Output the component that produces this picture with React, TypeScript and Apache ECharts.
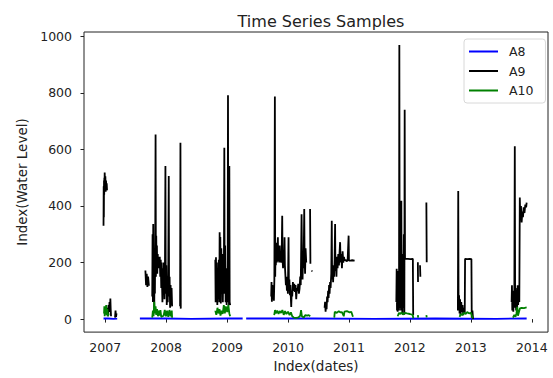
import React, { useEffect, useRef } from "react";
import * as echarts from "echarts";

type Pt = [string, number | null];

const seriesNames = ["A8", "A9", "A10"];
const yTicks = [0, 200, 400, 600, 800, 1000];
const xTickYears = [2007, 2008, 2009, 2010, 2011, 2012, 2013, 2014];

const a8: Pt[] = [
  ["2006-12-22", 2], ["2007-01-20", 2], ["2007-02-20", 1], ["2007-03-14", 2], ["2007-03-20", null],
  ["2007-07-28", 2], ["2008-01-01", 2], ["2008-06-01", 1], ["2009-01-01", 2], ["2009-04-04", 2], ["2009-04-14", null],
  ["2009-04-25", 2], ["2010-06-01", 2], ["2011-06-01", 1], ["2012-06-01", 2], ["2013-06-01", 1], ["2013-12-01", 2],
];

const a9: Pt[] = [
  // winter 2006/07
  ["2006-12-22", 330], ["2006-12-23", 470], ["2006-12-24", 360], ["2006-12-25", 490], ["2006-12-26", 440],
  ["2006-12-27", 500], ["2006-12-28", 455], ["2006-12-29", 518], ["2006-12-31", 470], ["2007-01-02", 505],
  ["2007-01-04", 450], ["2007-01-06", 490], ["2007-01-08", 460], ["2007-01-10", 480], ["2007-01-12", 455],
  ["2007-01-13", null],
  ["2007-01-15", 10], ["2007-01-17", 40], ["2007-01-19", 15], ["2007-01-21", 50], ["2007-01-24", 30],
  ["2007-01-27", 60], ["2007-01-30", 25], ["2007-02-01", 73], ["2007-02-03", 35], ["2007-02-05", 10],
  ["2007-02-10", null],
  ["2007-03-01", 5], ["2007-03-04", 30], ["2007-03-07", 8], ["2007-03-10", 20], ["2007-03-15", null],
  // autumn 2007
  ["2007-08-30", 172], ["2007-09-03", 120], ["2007-09-07", 160], ["2007-09-11", 114], ["2007-09-15", 150],
  ["2007-09-20", 118], ["2007-09-25", null],
  ["2007-10-10", 80], ["2007-10-12", 300], ["2007-10-14", 60], ["2007-10-16", 336], ["2007-10-18", 100],
  ["2007-10-20", 250], ["2007-10-22", 40], ["2007-10-24", 200], ["2007-10-26", 90], ["2007-10-28", 280],
  ["2007-10-30", 653], ["2007-11-01", 150], ["2007-11-03", 295], ["2007-11-05", 170], ["2007-11-07", 260],
  ["2007-11-09", 160], ["2007-11-12", 230], ["2007-11-15", 180], ["2007-11-18", 215], ["2007-11-21", 205],
  ["2007-11-24", 220], ["2007-11-27", 150], ["2007-11-30", 210], ["2007-12-03", 110], ["2007-12-06", 200],
  ["2007-12-08", 120], ["2007-12-10", 60], ["2007-12-13", 180], ["2007-12-16", 90], ["2007-12-19", 200],
  ["2007-12-22", 70], ["2007-12-25", 160], ["2007-12-28", 541], ["2007-12-30", 90], ["2008-01-02", 190],
  ["2008-01-05", 50], ["2008-01-08", 140], ["2008-01-11", 60], ["2008-01-14", 160], ["2008-01-17", 506],
  ["2008-01-19", 80], ["2008-01-22", 150], ["2008-01-25", 40], ["2008-01-28", 120], ["2008-01-31", 50],
  ["2008-02-03", 110], ["2008-02-06", 45], ["2008-02-10", null],
  ["2008-03-25", 45], ["2008-03-27", 623], ["2008-03-29", 37], ["2008-04-02", null],
  // winter 2008/09
  ["2008-10-22", 210], ["2008-10-24", 60], ["2008-10-26", 219], ["2008-10-28", 90], ["2008-10-31", 200],
  ["2008-11-03", 50], ["2008-11-06", 180], ["2008-11-09", 70], ["2008-11-12", 210], ["2008-11-15", 60],
  ["2008-11-17", 307], ["2008-11-19", 80], ["2008-11-21", 290], ["2008-11-24", 55], ["2008-11-27", 250],
  ["2008-11-30", 100], ["2008-12-03", 230], ["2008-12-06", 60], ["2008-12-09", 200], ["2008-12-12", 90],
  ["2008-12-15", 606], ["2008-12-17", 120], ["2008-12-20", 260], ["2008-12-23", 60], ["2008-12-26", 180],
  ["2008-12-29", 50], ["2009-01-02", 150], ["2009-01-04", 60], ["2009-01-06", 791], ["2009-01-08", 100],
  ["2009-01-10", 300], ["2009-01-12", 50], ["2009-01-14", 541], ["2009-01-16", 60], ["2009-01-19", 49],
  ["2009-01-25", null],
  // winter 2009/10
  ["2009-09-22", 80], ["2009-09-24", 131], ["2009-09-26", 61], ["2009-09-29", 120], ["2009-10-02", 70],
  ["2009-10-05", 110], ["2009-10-08", 65], ["2009-10-11", 140], ["2009-10-14", 787], ["2009-10-16", 150],
  ["2009-10-18", 250], ["2009-10-20", 190], ["2009-10-23", 270], ["2009-10-26", 200], ["2009-10-29", 240],
  ["2009-11-01", 289], ["2009-11-03", 205], ["2009-11-06", 230], ["2009-11-09", 200], ["2009-11-12", 260],
  ["2009-11-15", 205], ["2009-11-18", 210], ["2009-11-21", 200], ["2009-11-24", 240], ["2009-11-27", 365],
  ["2009-11-29", 210], ["2009-12-02", 180], ["2009-12-05", 230], ["2009-12-08", 200], ["2009-12-11", 289],
  ["2009-12-13", 190], ["2009-12-16", 155], ["2009-12-19", 120], ["2009-12-22", 150], ["2009-12-25", 100],
  ["2009-12-28", 140], ["2009-12-31", 90], ["2010-01-04", 289], ["2010-01-06", 110], ["2010-01-09", 140],
  ["2010-01-12", 84], ["2010-01-15", 120], ["2010-01-18", 70], ["2010-01-20", 43], ["2010-01-23", 100],
  ["2010-01-26", 80], ["2010-01-30", 131], ["2010-02-03", 100], ["2010-02-07", 125], ["2010-02-11", 96],
  ["2010-02-15", 120], ["2010-02-19", 70], ["2010-02-23", 110], ["2010-02-27", 100], ["2010-03-03", 125],
  ["2010-03-07", 90], ["2010-03-11", 108], ["2010-03-15", 150], ["2010-03-18", 120], ["2010-03-21", 260],
  ["2010-03-23", 371], ["2010-03-26", 200], ["2010-03-29", 140], ["2010-04-01", 230], ["2010-04-04", 180],
  ["2010-04-08", 389], ["2010-04-10", 220], ["2010-04-13", 160], ["2010-04-16", 250], ["2010-04-20", 200],
  ["2010-04-25", null],
  ["2010-05-13", 389], ["2010-05-15", 196], ["2010-05-18", null],
  ["2010-05-23", 172], ["2010-05-25", 168], ["2010-05-28", null],
  // winter 2010/11
  ["2010-08-08", 40], ["2010-08-11", 61], ["2010-08-14", 26], ["2010-08-17", 55], ["2010-08-20", 35],
  ["2010-08-23", 80], ["2010-08-26", 60], ["2010-08-29", 100], ["2010-09-01", 75], ["2010-09-04", 120],
  ["2010-09-07", 90], ["2010-09-10", 131], ["2010-09-13", 110], ["2010-09-17", 160], ["2010-09-20", 348],
  ["2010-09-22", 140], ["2010-09-25", 190], ["2010-09-28", 130], ["2010-10-01", 180], ["2010-10-04", 150],
  ["2010-10-07", 210], ["2010-10-10", 336], ["2010-10-12", 170], ["2010-10-15", 200], ["2010-10-18", 150],
  ["2010-10-21", 220], ["2010-10-25", 180], ["2010-10-29", 230], ["2010-11-02", 190], ["2010-11-06", 240],
  ["2010-11-09", 272], ["2010-11-12", 200], ["2010-11-16", 230], ["2010-11-20", 180], ["2010-11-24", 240],
  ["2010-11-28", 200], ["2010-12-02", 220], ["2010-12-06", 207], ["2010-12-12", 210], ["2010-12-18", 205],
  ["2010-12-24", 207], ["2010-12-30", 295], ["2011-01-01", 207], ["2011-01-10", 207], ["2011-01-20", 208],
  ["2011-02-04", 207], ["2011-02-06", null],
  ["2011-02-09", 125], ["2011-02-11", 123], ["2011-02-14", null],
  // winter 2011/12
  ["2011-10-12", 60], ["2011-10-14", 178], ["2011-10-16", 30], ["2011-10-18", 150], ["2011-10-20", 26],
  ["2011-10-22", 170], ["2011-10-24", 40], ["2011-10-26", 140], ["2011-10-28", 30], ["2011-10-30", 969],
  ["2011-11-01", 60], ["2011-11-03", 250], ["2011-11-05", 40], ["2011-11-07", 200], ["2011-11-09", 30],
  ["2011-11-11", 418], ["2011-11-13", 50], ["2011-11-15", 230], ["2011-11-17", 20], ["2011-11-20", 180],
  ["2011-11-23", 40], ["2011-11-26", 300], ["2011-11-29", 15], ["2011-12-01", 740], ["2011-12-03", 213],
  ["2011-12-20", 213], ["2012-01-05", 212], ["2012-01-19", 213], ["2012-01-21", 14], ["2012-01-25", null],
  ["2012-02-18", 201], ["2012-02-19", 131], ["2012-02-25", null],
  ["2012-03-02", 190], ["2012-03-04", 150], ["2012-03-08", null],
  ["2012-04-09", 412], ["2012-04-11", 201], ["2012-04-15", null],
  // winter 2012/13
  ["2012-10-15", 30], ["2012-10-17", 453], ["2012-10-19", 40], ["2012-10-22", 84], ["2012-10-25", 20],
  ["2012-10-28", 70], ["2012-10-31", 14], ["2012-11-04", 60], ["2012-11-08", 25], ["2012-11-12", 50],
  ["2012-11-16", 14], ["2012-11-20", 40], ["2012-11-25", 20], ["2012-11-27", 213], ["2012-12-10", 212],
  ["2012-12-25", 213], ["2013-01-04", 212], ["2013-01-06", 5], ["2013-01-10", 30], ["2013-01-14", 0],
  ["2013-01-20", null],
  // autumn 2013
  ["2013-09-02", 60], ["2013-09-04", 120], ["2013-09-06", 30], ["2013-09-09", 100], ["2013-09-12", 26],
  ["2013-09-15", 80], ["2013-09-18", 40], ["2013-09-21", 611], ["2013-09-23", 60], ["2013-09-26", 110],
  ["2013-09-29", 30], ["2013-10-02", 90], ["2013-10-05", 40], ["2013-10-08", 120], ["2013-10-11", 50],
  ["2013-10-15", 100], ["2013-10-18", 60], ["2013-10-21", 430], ["2013-10-24", 350], ["2013-10-28", 400],
  ["2013-11-01", 342], ["2013-11-05", 380], ["2013-11-09", 360], ["2013-11-13", 395], ["2013-11-18", 375],
  ["2013-11-23", 405], ["2013-11-28", 395], ["2013-12-01", 412],
];

const a10: Pt[] = [
  ["2006-12-25", 20], ["2006-12-27", 45], ["2006-12-29", 10], ["2007-01-01", 40], ["2007-01-04", 25],
  ["2007-01-07", 50], ["2007-01-10", 15], ["2007-01-14", 35], ["2007-01-18", 10], ["2007-01-22", 20],
  ["2007-01-26", null],
  ["2007-10-10", 5], ["2007-10-14", 30], ["2007-10-18", 10], ["2007-10-22", 61], ["2007-10-26", 20],
  ["2007-10-30", 45], ["2007-11-03", 15], ["2007-11-08", 35], ["2007-11-13", 10], ["2007-11-18", 30],
  ["2007-11-23", 12], ["2007-11-28", 32], ["2007-12-03", 8], ["2007-12-10", 10], ["2007-12-17", 12],
  ["2007-12-24", 32], ["2007-12-31", 10], ["2008-01-07", 30], ["2008-01-14", 8], ["2008-01-21", 32],
  ["2008-01-28", 10], ["2008-02-04", 30], ["2008-02-06", 5], ["2008-02-10", null],
  ["2008-10-22", 30], ["2008-10-28", 15], ["2008-11-04", 40], ["2008-11-10", 20], ["2008-11-16", 35],
  ["2008-11-22", 12], ["2008-11-28", 30], ["2008-12-05", 18], ["2008-12-12", 49], ["2008-12-18", 20],
  ["2008-12-24", 45], ["2009-01-01", 25], ["2009-01-08", 50], ["2009-01-14", 20], ["2009-01-19", 10],
  ["2009-01-25", null],
  ["2009-10-10", 14], ["2009-10-15", 32], ["2009-10-20", 20], ["2009-10-28", 30], ["2009-11-05", 18],
  ["2009-11-12", 28], ["2009-11-20", 22], ["2009-11-28", 32], ["2009-12-06", 15], ["2009-12-14", 28],
  ["2009-12-22", 18], ["2010-01-01", 26], ["2010-01-10", 14], ["2010-01-18", 24], ["2010-01-26", 10],
  ["2010-02-05", 5], ["2010-02-20", 4], ["2010-03-05", 6], ["2010-03-15", 12], ["2010-03-20", 32],
  ["2010-03-25", 10], ["2010-04-05", 6], ["2010-04-15", 14], ["2010-04-25", 12], ["2010-05-05", 14],
  ["2010-05-14", 10], ["2010-05-20", null],
  ["2010-10-05", 5], ["2010-10-08", 26], ["2010-10-20", 22], ["2010-11-01", 28], ["2010-11-10", 24],
  ["2010-11-20", 25], ["2010-12-01", 10], ["2010-12-05", 26], ["2010-12-20", 28], ["2011-01-05", 24],
  ["2011-01-15", 26], ["2011-01-25", 8], ["2011-01-30", null],
  ["2011-10-20", 10], ["2011-10-28", 22], ["2011-11-05", 18], ["2011-11-12", 24], ["2011-11-20", 16],
  ["2011-12-01", 22], ["2011-12-15", 20], ["2012-01-01", 18], ["2012-01-18", 15], ["2012-01-22", 3],
  ["2012-01-26", null],
  ["2012-02-18", 14], ["2012-02-20", 5], ["2012-02-25", null],
  ["2012-04-09", 14], ["2012-04-11", 6], ["2012-04-15", null],
  ["2012-10-25", 8], ["2012-11-01", 18], ["2012-11-10", 14], ["2012-11-20", 22], ["2012-12-01", 18],
  ["2012-12-10", 25], ["2012-12-20", 20], ["2013-01-01", 22], ["2013-01-08", 10], ["2013-01-12", 3],
  ["2013-01-18", null],
  ["2013-09-10", 5], ["2013-09-18", 15], ["2013-09-25", 8], ["2013-10-01", 20], ["2013-10-06", 43],
  ["2013-10-10", 12], ["2013-10-16", 25], ["2013-10-22", 38], ["2013-11-01", 40], ["2013-11-15", 39],
  ["2013-12-01", 41],
];

const seriesData = [a8, a9, a10];
const seriesColors = ["#0000ff", "#000000", "#008000"];

const toData = (arr: Pt[]) =>
  arr.map(([d, v]) => [Date.parse(d + "T00:00:00Z"), v === null ? "-" : v]);

const FONT = "DejaVu Sans";

export default function App() {
  const ref = useRef<HTMLDivElement>(null);
  useEffect(() => {
    if (!ref.current) return;
    const chart = echarts.init(ref.current, null, { renderer: "svg" });
    const yearTs = xTickYears.map((y) => Date.UTC(y, 0, 1));
    chart.setOption({
      animation: false,
      backgroundColor: "#ffffff",
      title: {
        text: "Time Series Samples",
        left: 316,
        textAlign: "center",
        top: 8,
        textStyle: { fontFamily: FONT, fontSize: 16, fontWeight: "normal", color: "#222" },
      },
      legend: {
        data: seriesNames,
        orient: "vertical",
        left: 464,
        top: 39,
        padding: [6, 12, 6, 4],
        itemWidth: 29,
        itemHeight: 14,
        itemGap: 6.5,
        backgroundColor: "#ffffff",
        borderColor: "#d8d8d8",
        borderWidth: 1,
        borderRadius: 3,
        itemStyle: { opacity: 0 },
        lineStyle: { width: 2 },
        textStyle: { fontFamily: FONT, fontSize: 12.5, color: "#222", padding: [0, 0, 0, 6] },
      },
      grid: {
        left: 84,
        right: 5,
        top: 32,
        bottom: 44,
        show: true,
        borderColor: "#222",
        borderWidth: 1,
        backgroundColor: "transparent",
      },
      xAxis: {
        type: "value",
        min: Date.UTC(2006, 7, 27),
        max: Date.UTC(2014, 3, 8),
        name: "Index(dates)",
        nameLocation: "middle",
        nameGap: 25,
        nameTextStyle: { fontFamily: FONT, fontSize: 13.5, color: "#222" },
        splitLine: { show: false },
        axisLine: { show: false },
        axisTick: { show: true, length: 3.5, lineStyle: { color: "#222" }, customValues: yearTs },
        axisLabel: {
          fontFamily: FONT,
          fontSize: 12.5,
          color: "#222",
          margin: 9,
          customValues: yearTs,
          formatter: (v: number) => String(new Date(v).getUTCFullYear()),
        },
      },
      yAxis: {
        type: "value",
        min: -46,
        max: 1015,
        name: "Index(Water Level)",
        nameLocation: "middle",
        nameGap: 48,
        nameTextStyle: { fontFamily: FONT, fontSize: 13.5, color: "#222" },
        splitLine: { show: false },
        axisLine: { show: false },
        axisTick: { show: true, length: 3.5, lineStyle: { color: "#222" }, customValues: yTicks },
        axisLabel: {
          fontFamily: FONT,
          fontSize: 12.5,
          color: "#222",
          margin: 12,
          customValues: yTicks,
          formatter: (v: number) => String(v),
        },
      },
      series: seriesNames.map((name, i) => ({
        name,
        type: "line",
        data: toData(seriesData[i]),
        symbol: "none",
        showSymbol: false,
        connectNulls: false,
        color: seriesColors[i],
        lineStyle: { color: seriesColors[i], width: 1.8 },
      })),
    });
    return () => chart.dispose();
  }, []);
  return (
    <div
      ref={ref}
      style={{ position: "fixed", left: 0, top: 0, width: 553, height: 378, background: "#fff" }}
    />
  );
}
